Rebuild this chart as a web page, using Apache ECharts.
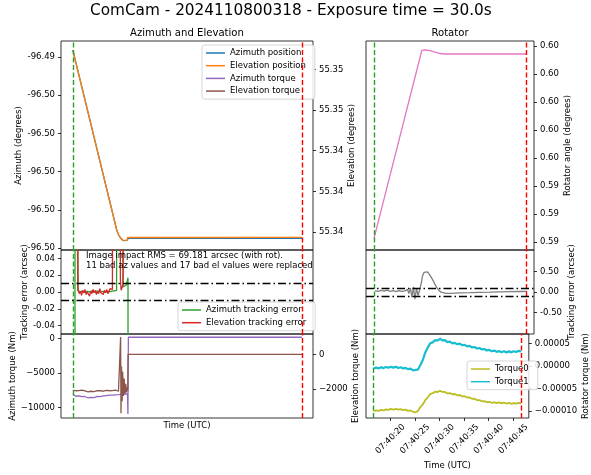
<!DOCTYPE html>
<html><head><meta charset="utf-8">
<script src="https://cdn.jsdelivr.net/npm/echarts@6/dist/echarts.min.js"></script>
<style>html,body{margin:0;padding:0;background:#fff}#c{width:591px;height:475px}</style>
</head><body><div id="c"></div>
<script>
// ---------- data ----------
const timeRange = [15.05, 48.15];          // seconds after 07:40:00 UTC
const exposureStart = 16.6, exposureEnd = 46.7;
const timeTicks = [20, 25, 30, 35, 40, 45];
const timeTickLabels = ['07:40:20', '07:40:25', '07:40:30', '07:40:35', '07:40:40', '07:40:45'];

// Azimuth / elevation position
const posTime = [16.6, 22.37, 22.6, 22.89, 23.19, 23.45, 23.72, 23.8, 23.89, 46.7];
const azPosition = [-96.493817, -96.498529, -96.498647, -96.498746, -96.498804, -96.498809, -96.498799, -96.498751, -96.498746, -96.498746];
const elPosition = [55.348948, 55.340103, 55.339882, 55.339710, 55.339597, 55.339587, 55.339607, 55.339735, 55.339745, 55.339745];
const azRange = [-96.499052, -96.493581];
const azTicks = [-96.494, -96.495, -96.496, -96.497, -96.498, -96.499];
const azTickLabels = ['-96.49', '-96.50', '-96.50', '-96.50', '-96.50', '-96.50'];
const elRange = [55.339120, 55.349391];
const elTicks = [55.348, 55.346, 55.344, 55.342, 55.340];
const elTickLabels = ['55.35', '55.35', '55.34', '55.34', '55.34'];

// Tracking errors (arcsec)
const trkRange = [-0.05, 0.05];
const trkTicks = [0.04, 0.02, 0, -0.02, -0.04];
const trkTickLabels = ['0.04', '0.02', '0.00', '-0.02', '-0.04'];
const trkLimit = 0.01;
const azErrTime = [16.6, 16.88, 16.9, 17.05, 17.25, 17.55, 17.85, 18.15, 18.45, 18.75, 19.05, 19.35, 19.65, 19.95, 20.25, 20.55, 20.85, 21.15, 21.45, 21.75, 22.05, 22.35, 22.45, 23.1, 23.2, 23.4, 23.6, 23.75, 23.85, 23.89];
const azErr = [-0.5, -0.5, 0.5, 0.5, 0.0015, 0.0005, 0.001, -0.0005, 0.0008, 0.0002, 0.001, -0.0003, 0.0006, 0.0012, 0.0, 0.0008, -0.0004, 0.0007, 0.0003, 0.0011, 0.0015, 0.002, 0.5, 0.5, 0.006, 0.004, 0.008, 0.013, 0.017, -0.5];
const elErrTime = [16.6, 17.1, 17.3, 17.45, 17.6, 17.75, 17.9, 18.05, 18.2, 18.35, 18.5, 18.65, 18.8, 18.95, 19.1, 19.25, 19.4, 19.55, 19.7, 19.85, 20.0, 20.15, 20.3, 20.45, 20.6, 20.75, 20.9, 21.05, 21.2, 21.35, 21.5, 21.65, 21.8, 21.95, 22.75, 22.85, 22.95, 23.1, 23.2, 23.3, 23.9];
const elErr = [0.5, 0.5, 0.003, -0.002, 0.001, -0.004, 0.002, -0.001, 0.003, -0.003, 0.000, 0.002, -0.005, 0.001, -0.002, 0.003, -0.001, 0.002, -0.003, 0.001, -0.002, 0.004, -0.001, 0.000, -0.003, 0.002, -0.001, 0.003, -0.002, 0.001, 0.004, 0.002, 0.003, 0.5, 0.5, 0.015, 0.002, 0.004, 0.009, 0.5, 0.5];

// Azimuth / elevation torque (Nm)
const azTorqueTime = [16.6, 16.8, 17.0, 17.2, 17.4, 17.6, 17.8, 18.0, 18.2, 18.4, 18.6, 18.8, 19.0, 19.2, 19.4, 19.6, 19.8, 20.0, 20.2, 20.4, 20.6, 20.8, 21.0, 21.2, 21.4, 21.6, 21.8, 22.0, 22.2, 22.4, 22.6, 22.8, 23.0, 23.2, 23.4, 23.6, 23.78, 23.84, 23.9, 46.7];
const azTorque = [-8050, -8150, -8350, -8480, -8300, -8520, -8410, -8560, -8380, -8470, -8600, -8420, -8500, -8330, -8560, -8450, -8380, -8520, -8400, -8470, -8300, -8420, -8250, -8330, -8200, -8290, -8180, -8260, -8150, -8230, -8120, -8200, -8080, -8160, -8050, -8120, -8000, -10900, 150, 150];
const elTorqueTime = [16.6, 16.8, 17.0, 17.2, 17.4, 17.6, 17.8, 18.0, 18.2, 18.4, 18.6, 18.8, 19.0, 19.2, 19.4, 19.6, 19.8, 20.0, 20.2, 20.4, 20.6, 20.8, 21.0, 21.2, 21.4, 21.6, 21.8, 22.0, 22.2, 22.4, 22.6, 22.8, 22.88, 22.93, 23.0, 23.08, 23.15, 23.25, 23.35, 23.45, 23.55, 23.65, 23.75, 23.82, 23.86, 46.7];
const elTorque = [-2080, -2150, -2100, -2170, -2090, -2130, -2060, -2140, -2110, -2080, -2160, -2100, -2130, -2070, -2150, -2120, -2090, -2140, -2100, -2060, -2130, -2110, -2080, -2150, -2100, -2120, -2090, -2140, -2070, -2110, -2130, -2100, 990, -3400, -700, -2700, -1000, -2400, -1400, -2300, -1700, -2200, -1900, -2100, -10, -10];
const azTqRange = [-11484, 620];
const azTqTicks = [0, -5000, -10000];
const azTqTickLabels = ['0', '\u22125000', '\u221210000'];
const elTqRange = [-3672, 1170];
const elTqTicks = [0, -2000];
const elTqTickLabels = ['0', '\u22122000'];

// Rotator angle (degrees)
const rotTime = [16.63, 26.03, 26.48, 27.01, 27.66, 28.31, 28.98, 29.63, 30.62, 46.72];
const rotAngle = [0.5947132, 0.5953832, 0.5953864, 0.5953857, 0.5953832, 0.5953796, 0.5953761, 0.5953732, 0.5953714, 0.5953714];
const rotRange = [0.5946714, 0.5954179];
const rotTicks = [0.5954, 0.5953, 0.5952, 0.5951, 0.5950, 0.5949, 0.5948, 0.5947];
const rotTickLabels = ['0.60', '0.60', '0.60', '0.60', '0.60', '0.59', '0.59', '0.59'];

// Rotator tracking error (arcsec)
const rotErrTime = [16.82, 17.41, 18.01, 18.6, 19.19, 19.78, 20.37, 20.96, 21.55, 22.14, 22.73, 23.2, 23.5, 23.8, 24.1, 24.4, 24.7, 25.0, 25.3, 25.6, 25.83, 25.99, 26.18, 26.48, 26.87, 27.17, 27.46, 27.86, 28.25, 28.65, 29.04, 29.43, 29.83, 30.22, 30.81, 31.6, 32.59, 33.57, 35.54, 37.51, 39.48, 41.45, 43.42, 45.39, 46.77];
const rotErr = [0.039, 0.020, 0.044, 0.027, 0.049, 0.020, 0.037, 0.012, 0.041, 0.020, 0.032, 0.070, -0.030, 0.100, -0.120, 0.130, -0.170, 0.100, -0.080, 0.040, 0.020, 0.251, 0.398, 0.483, 0.507, 0.495, 0.446, 0.373, 0.288, 0.190, 0.105, 0.044, 0, -0.022, -0.029, -0.027, -0.022, -0.017, -0.012, -0.005, 0, 0.007, 0.012, 0.017, 0.020];
const rotErrRange = [-1.02, 1.03];
const rotErrTicks = [0.5, 0, -0.5];
const rotErrTickLabels = ['0.50', '0.00', '-0.50'];
const rotErrLimit = 0.1;

// Rotator torques (Nm)
const rotTorqueTime = [16.6, 17.1, 17.6, 18.1, 18.6, 19.1, 19.6, 20.1, 20.6, 21.1, 21.6, 22.1, 22.6, 23.1, 23.6, 24.1, 24.6, 25.1, 25.6, 26.1, 26.6, 27.1, 27.6, 28.1, 28.6, 29.1, 29.6, 30.1, 30.6, 31.1, 31.6, 32.1, 32.6, 33.1, 33.6, 34.1, 34.6, 35.1, 35.6, 36.1, 36.6, 37.1, 37.6, 38.1, 38.6, 39.1, 39.6, 40.1, 40.6, 41.1, 41.6, 42.1, 42.6, 43.1, 43.6, 44.1, 44.6, 45.1, 45.6, 46.1, 46.6];
const torque0 = [-100.4e-6, -98.4e-6, -99.7e-6, -97.4e-6, -98.8e-6, -96.3e-6, -97.5e-6, -95.1e-6, -96.8e-6, -95.3e-6, -97.1e-6, -95.8e-6, -97.9e-6, -97.0e-6, -99.7e-6, -98.8e-6, -101.8e-6, -102.8e-6, -100.3e-6, -91.2e-6, -85.5e-6, -75.8e-6, -69.6e-6, -62.4e-6, -60.6e-6, -57.2e-6, -57.9e-6, -55.5e-6, -57.8e-6, -57.9e-6, -61.2e-6, -60.4e-6, -62.9e-6, -62.3e-6, -65.1e-6, -64.7e-6, -67.5e-6, -67.2e-6, -70.1e-6, -70.0e-6, -73.0e-6, -72.9e-6, -75.9e-6, -75.8e-6, -78.5e-6, -78.0e-6, -80.5e-6, -79.6e-6, -81.8e-6, -80.6e-6, -82.4e-6, -81.1e-6, -82.9e-6, -81.6e-6, -83.4e-6, -82.2e-6, -84.1e-6, -82.4e-6, -83.7e-6, -81.8e-6, -83.2e-6];
const torque1 = [-5.6e-6, -3.8e-6, -5.9e-6, -3.2e-6, -5.0e-6, -2.4e-6, -4.3e-6, -1.9e-6, -3.9e-6, -2.0e-6, -4.6e-6, -3.0e-6, -5.8e-6, -4.4e-6, -7.3e-6, -6.1e-6, -10.2e-6, -9.0e-6, -8.6e-6, 1.8e-6, 13.0e-6, 29.5e-6, 40.5e-6, 50.0e-6, 52.0e-6, 57.0e-6, 56.2e-6, 60.0e-6, 56.5e-6, 57.2e-6, 52.6e-6, 53.6e-6, 49.8e-6, 51.0e-6, 47.8e-6, 49.3e-6, 45.7e-6, 46.7e-6, 43.0e-6, 44.2e-6, 40.8e-6, 41.9e-6, 38.5e-6, 39.6e-6, 36.2e-6, 37.4e-6, 34.1e-6, 35.4e-6, 32.4e-6, 33.9e-6, 31.1e-6, 32.7e-6, 30.2e-6, 32.2e-6, 29.9e-6, 32.1e-6, 29.9e-6, 32.4e-6, 30.7e-6, 33.3e-6, 31.8e-6];
const rotTqRange = [-0.0001155, 0.0000706];
const rotTqTicks = [0.00005, 0, -0.00005, -0.0001];
const rotTqTickLabels = ['0.00005', '0.00000', '\u22120.00005', '\u22120.00010'];

// ---------- chart ----------
const FONT = 'DejaVu Sans';
const FS = 8.5;
const LW = 1.3;

function fmt(ticks, labels) {
  return function (v) {
    for (let i = 0; i < ticks.length; i++) {
      if (Math.abs(ticks[i] - v) <= 1e-9 * Math.max(1, Math.abs(v))) return labels[i];
    }
    return '';
  };
}
function pairs(ts, vs) { return ts.map((t, i) => [t, vs[i]]); }

function yAx(grid, pos, range, ticks, labels, name, nameGap) {
  return {
    type: 'value', gridIndex: grid, position: pos, min: range[0], max: range[1],
    splitLine: { show: false }, axisLine: { show: false, onZero: false },
    axisTick: { show: true, length: 3, customValues: ticks, lineStyle: { color: '#000', width: 0.8 } },
    axisLabel: { customValues: ticks, formatter: fmt(ticks, labels), margin: 6, fontSize: FS, color: '#000', fontFamily: FONT },
    name: name, nameLocation: 'middle', nameGap: nameGap, nameRotate: 90,
    nameTextStyle: { fontSize: FS, color: '#000', fontFamily: FONT }
  };
}
function xAx(grid, show, name, nameGap) {
  return {
    type: 'value', gridIndex: grid, min: timeRange[0], max: timeRange[1],
    splitLine: { show: false }, axisLine: { show: false, onZero: false },
    axisTick: { show: show, length: 3, customValues: timeTicks, lineStyle: { color: '#000', width: 0.8 } },
    axisLabel: { show: show, customValues: timeTicks, formatter: fmt(timeTicks, timeTickLabels), rotate: 45,
      align: 'center', verticalAlign: 'middle', margin: 21, fontSize: FS, color: '#000', fontFamily: FONT },
    name: name || '', nameLocation: 'middle', nameGap: nameGap || 0,
    nameTextStyle: { fontSize: FS, color: '#000', fontFamily: FONT }
  };
}
function markLines(extra) {
  const data = [
    { xAxis: exposureStart, lineStyle: { color: '#2ca02c', type: [5, 2.5], width: 1.4 } },
    { xAxis: exposureEnd, lineStyle: { color: '#ff0000', type: [5, 2.5], width: 1.4 } }
  ].concat(extra || []);
  return { silent: true, symbol: 'none', label: { show: false }, animation: false, data: data };
}
function limitLines(lim) {
  const st = { color: '#000', type: [8, 3, 1.5, 3], width: LW };
  return [{ yAxis: lim, lineStyle: st }, { yAxis: -lim, lineStyle: st }];
}
function line(name, xi, yi, ts, vs, color, width, ml) {
  const s = {
    type: 'line', name: name, xAxisIndex: xi, yAxisIndex: yi, data: pairs(ts, vs),
    showSymbol: false, symbol: 'none', silent: true, animation: false,
    lineStyle: { color: color, width: width || LW }, itemStyle: { color: color },
    emphasis: { disabled: true }
  };
  if (ml) s.markLine = ml;
  return s;
}

const L = 61, LW_ = 252, R = 366, RW = 168;
const T1 = 41, H1 = 209, T2 = 250, H2 = 84, T3 = 334, H3 = 84;
const gridStyle = { show: true, borderColor: '#000', borderWidth: 0.8, backgroundColor: 'transparent' };

const legendCommon = {
  orient: 'vertical', icon: 'rect', itemWidth: 19, itemHeight: 1.5, itemGap: 2.7,
  padding: [3, 9, 3, 4], borderColor: '#cccccc', borderWidth: 0.8, borderRadius: 2.5,
  backgroundColor: 'rgba(255,255,255,0.85)', selectedMode: false,
  textStyle: { fontSize: FS, color: '#000', fontFamily: FONT, lineHeight: 10 }
};

const option = {
  animation: false,
  textStyle: { fontFamily: FONT },
  title: [{
    text: 'ComCam - 2024110800318 - Exposure time = 30.0s', left: 90, top: 4, padding: 0,
    textStyle: { fontSize: 15.3, fontWeight: 'normal', color: '#000', fontFamily: FONT }
  }],
  grid: [
    Object.assign({ left: L, top: T1, width: LW_, height: H1 }, gridStyle),
    Object.assign({ left: L, top: T2, width: LW_, height: H2 }, gridStyle),
    Object.assign({ left: L, top: T3, width: LW_, height: H3 }, gridStyle),
    Object.assign({ left: R, top: T1, width: RW, height: H1 }, gridStyle),
    Object.assign({ left: R, top: T2, width: RW, height: H2 }, gridStyle),
    Object.assign({ left: R, top: T3, width: RW, height: H3 }, gridStyle)
  ],
  xAxis: [
    xAx(0, false), xAx(1, false), xAx(2, false, 'Time (UTC)', 3),
    xAx(3, false), xAx(4, false), xAx(5, true, 'Time (UTC)', 43)
  ],
  yAxis: [
    yAx(0, 'left', azRange, azTicks, azTickLabels, 'Azimuth (degrees)', 37),
    yAx(0, 'right', elRange, elTicks, elTickLabels, 'Elevation (degrees)', 32),
    yAx(1, 'left', trkRange, trkTicks, trkTickLabels, 'Tracking error (arcsec)', 32),
    yAx(2, 'left', azTqRange, azTqTicks, azTqTickLabels, 'Azimuth torque (Nm)', 43),
    yAx(2, 'right', elTqRange, elTqTicks, elTqTickLabels, 'Elevation torque (Nm)', 37),
    yAx(3, 'right', rotRange, rotTicks, rotTickLabels, 'Rotator angle (degrees)', 29),
    yAx(4, 'right', rotErrRange, rotErrTicks, rotErrTickLabels, 'Tracking error (arcsec)', 33),
    yAx(5, 'right', rotTqRange, rotTqTicks, rotTqTickLabels, 'Rotator torque (Nm)', 48)
  ],
  legend: [
    Object.assign({ data: ['Azimuth position', 'Elevation position', 'Azimuth torque', 'Elevation torque'], left: 202, top: 45 }, legendCommon),
    Object.assign({ data: ['Azimuth tracking error', 'Elevation tracking error'], left: 178, top: 302 }, legendCommon),
    Object.assign({ data: ['Torque0', 'Torque1'], left: 467, top: 361 }, legendCommon)
  ],
  graphic: [
    { type: 'text', x: (L + L + LW_) / 2, y: 33, silent: true,
      style: { text: 'Azimuth and Elevation', align: 'center', verticalAlign: 'middle', fontSize: 10.1, fill: '#000', fontFamily: FONT } },
    { type: 'text', x: (R + R + RW) / 2, y: 33, silent: true,
      style: { text: 'Rotator', align: 'center', verticalAlign: 'middle', fontSize: 10.1, fill: '#000', fontFamily: FONT } },
    { type: 'text', x: 86, y: 251, silent: true, z: 10,
      style: { text: 'Image impact RMS = 69.181 arcsec (with rot).\n11 bad az values and 17 bad el values were replaced',
        align: 'left', verticalAlign: 'top', fontSize: FS, lineHeight: 9.6, fill: '#000', fontFamily: FONT } }
  ],
  series: [
    line('Azimuth position', 0, 0, posTime, azPosition, '#1f77b4', LW, markLines()),
    line('Elevation position', 0, 1, posTime, elPosition, '#ff7f0e'),
    line('Azimuth tracking error', 1, 2, azErrTime, azErr, '#2ca02c', LW, markLines(limitLines(trkLimit))),
    line('Elevation tracking error', 1, 2, elErrTime, elErr, '#d62728'),
    line('Azimuth torque', 2, 3, azTorqueTime, azTorque, '#9467bd', LW, markLines()),
    line('Elevation torque', 2, 4, elTorqueTime, elTorque, '#8c564b'),
    line('Rotator angle', 3, 5, rotTime, rotAngle, '#e377c2', LW, markLines()),
    line('Rotator tracking error', 4, 6, rotErrTime, rotErr, '#7f7f7f', LW, markLines(limitLines(rotErrLimit))),
    line('Torque0', 5, 7, rotTorqueTime, torque0, '#bcbd22', 1.8, markLines()),
    line('Torque1', 5, 7, rotTorqueTime, torque1, '#17becf', 2.2)
  ]
};

const chart = echarts.init(document.getElementById('c'), null, { renderer: 'canvas' });
chart.setOption(option);
</script></body></html>
